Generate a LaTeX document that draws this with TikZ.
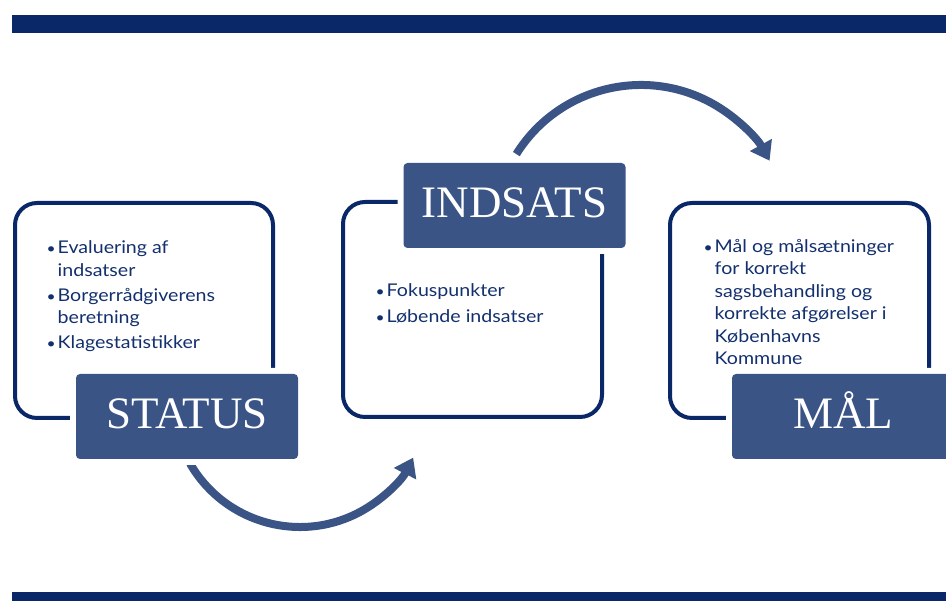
\documentclass[tikz,border=0pt]{standalone}
\usepackage{fontspec}
\newfontfamily\bodyfont[FakeStretch=1.12]{Lato}
\newfontfamily\headfont{Liberation Serif}
\usetikzlibrary{arrows.meta}
\definecolor{navy}{HTML}{0A2868}
\definecolor{labfill}{HTML}{3B5486}
\definecolor{txt}{HTML}{13306E}
\newcommand{\bul}{\makebox[11pt][l]{\scalebox{0.8}{\textbullet}}}
\newcommand{\ind}{\hspace*{11pt}}
\begin{document}
\begin{tikzpicture}[x=1pt,y=1pt,
  outlinebox/.style={draw=navy, line width=4pt, rounded corners=22pt, inner sep=0pt},
  labelbox/.style={fill=labfill, rounded corners=4pt, minimum width=222pt, minimum height=85pt,
    inner sep=0pt, preaction={draw=white, line width=12pt}, text=white,
    text height=30pt, text depth=6pt, font=\headfont\fontsize{45}{47}\selectfont},
  body/.style={anchor=base west, align=left, inner sep=0pt, text=txt,
    font=\bodyfont\fontsize{17.5}{22.5}\selectfont},
  flow/.style={draw=labfill, line width=8pt, -{Triangle[width=24pt,length=18pt]}}]
\useasboundingbox (0,0) rectangle (946,601);
\clip (0,0) rectangle (946,601);
% bars
\fill[navy] (12,568) rectangle (946,586);
\fill[navy] (12,0) rectangle (946,9);
% outline boxes
\node[outlinebox, minimum width=258pt, minimum height=215pt] (box1) at (144,290.5) {};
\node[outlinebox, minimum width=259pt, minimum height=215pt] (box2) at (472.5,291.5) {};
\node[outlinebox, minimum width=259pt, minimum height=215pt] (box3) at (799.5,290.5) {};
% arcs
\coordinate (c1) at (300,201);
\coordinate (c2) at (641,369);
\draw[flow] ([shift={(210:127)}]c1) arc[start angle=210, end angle=333, radius=127];
\draw[flow] ([shift={(148:147)}]c2) arc[start angle=148, end angle=29, radius=147];
% labels
\node[labelbox] (status) at (187,184.5) {STATUS};
\node[labelbox] (indsats) at (514.5,395.5) {INDSATS};
\node[labelbox] (maal) at (843,184.5) {MÅL};
% texts
\node[body] (t1) at (46.5,252) {\bul Evaluering af\\\ind indsatser\\[2.5pt]\bul Borgerrådgiverens\\\ind beretning\\[2.5pt]\bul Klagestatistikker};
\node[body] (t2) at (375.5,278) {\bul Fokuspunkter\\[3.5pt]\bul Løbende indsatser};
\node[body] (t3) at (703.5,236) {\bul Mål og målsætninger\\\ind for korrekt\\\ind sagsbehandling og\\\ind korrekte afgørelser i\\\ind Københavns\\\ind Kommune};
\end{tikzpicture}
\end{document}
